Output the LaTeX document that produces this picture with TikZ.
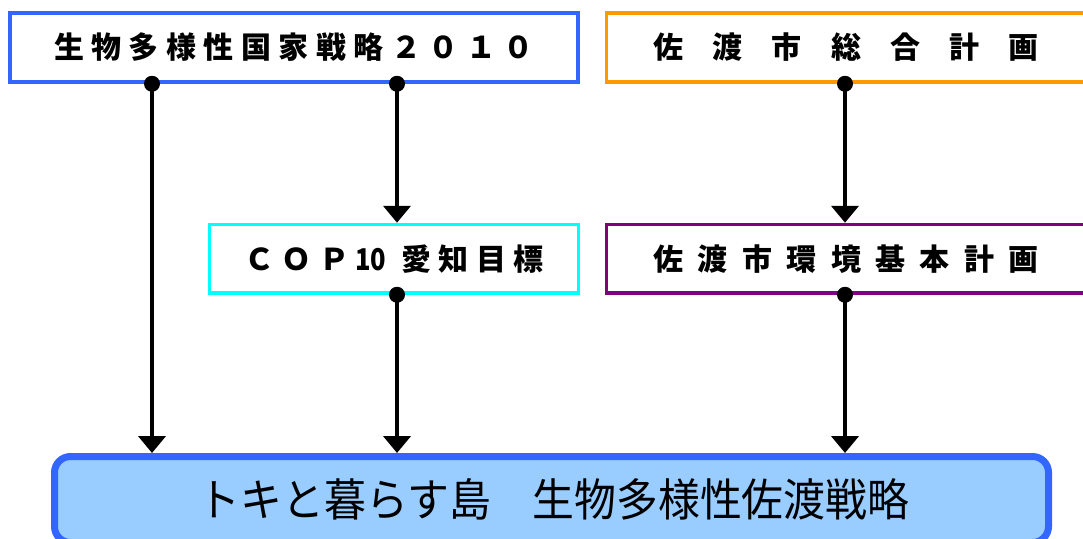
\documentclass[tikz,border=0pt]{standalone}
\usepackage{fontspec}
\usepackage{graphicx}
\usetikzlibrary{arrows.meta}
\newfontfamily\jp{Noto Sans CJK JP}
\definecolor{bluebd}{HTML}{3366FF}
\definecolor{orangebd}{HTML}{FF9900}
\definecolor{cyanbd}{HTML}{00FFFF}
\definecolor{purplebd}{HTML}{800080}
\definecolor{botfill}{HTML}{99CCFF}
\makeatletter
\newcommand\spacedtext[2]{\@tfor\sp@c:=#2\do{\makebox[#1][c]{\sp@c}}}
\makeatother
\tikzset{
  srcbox/.style={draw=#1, line width=3.5pt, fill=white, rectangle, inner sep=0pt,
    font=\jp\bfseries\fontsize{30}{34}\selectfont},
  mainbox/.style={draw=bluebd, fill=botfill, line width=7pt, rounded corners=16pt,
    rectangle, inner sep=0pt, font=\jp\fontsize{45}{50}\selectfont},
  conn/.style={line width=4.5pt, black, -{Triangle[width=27pt,length=17pt]}},
  dotmark/.style={fill=black}
}
\begin{document}
\begin{tikzpicture}[x=1pt,y=-1pt]
\useasboundingbox (0,0) rectangle (1083,538);
\clip (0,0) rectangle (1083,538);
\node[srcbox=bluebd, minimum width=568pt, minimum height=69pt] (nbsap) at (294,47.5)
  {\spacedtext{37.5pt}{生物多様性国家戦略２０１０}};
\node[srcbox=orangebd, minimum width=479pt, minimum height=69pt] (sogo) at (846,47.5)
  {\spacedtext{59.2pt}{佐渡市総合計画}};
\node[srcbox=cyanbd, minimum width=369pt, minimum height=68.5pt] (cop) at (394,258.75)
  {\spacedtext{37.5pt}{ＣＯＰ}\makebox[44pt][l]{\hspace{2pt}\scalebox{0.85}[1]{10}}\spacedtext{37.5pt}{愛知目標}};
\node[srcbox=purplebd, minimum width=479pt, minimum height=68.5pt] (kankyo) at (846,258.75)
  {\spacedtext{44.4pt}{佐渡市環境基本計画}};
\node[mainbox, minimum width=994pt, minimum height=86pt] (senryaku) at (551.5,499.5)
  {\hspace*{5pt}\scalebox{0.93}[1]{トキと暮らす島　生物多様性佐渡戦略}};
\coordinate (xa) at (152,0);
\coordinate (xb) at (397,0);
\coordinate (xc) at (845,0);
\draw[conn] (nbsap.south -| xa) -- (senryaku.north -| xa);
\draw[conn] (nbsap.south -| xb) -- (cop.north -| xb);
\draw[conn] (cop.south -| xb) -- (senryaku.north -| xb);
\draw[conn] (sogo.south -| xc) -- (kankyo.north -| xc);
\draw[conn] (kankyo.south -| xc) -- (senryaku.north -| xc);
\fill[dotmark] (nbsap.south -| xa) circle (8pt);
\fill[dotmark] (nbsap.south -| xb) circle (8pt);
\fill[dotmark] (cop.south -| xb) circle (8pt);
\fill[dotmark] (sogo.south -| xc) circle (8pt);
\fill[dotmark] (kankyo.south -| xc) circle (8pt);
\end{tikzpicture}
\end{document}
